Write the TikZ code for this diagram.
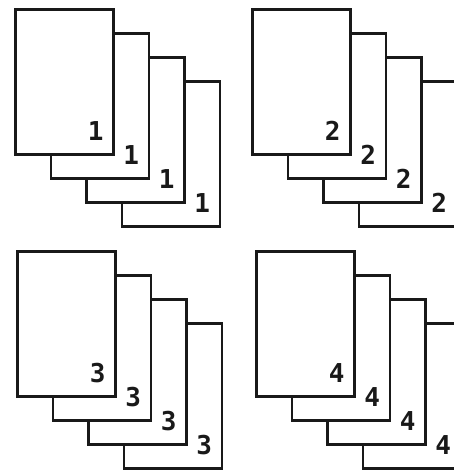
\documentclass[tikz,border=0pt]{standalone}
\usepackage{fontspec}
\newfontfamily\digitfont{DejaVu Sans Mono}
\usetikzlibrary{calc}
\begin{document}
\begin{tikzpicture}[x=1pt,y=-1pt,
  page/.style={draw=black!90, line width=2.6pt, fill=white, minimum width=98pt, minimum height=145pt, anchor=north west, inner sep=0pt},
  num/.style={font=\digitfont\bfseries\fontsize{26}{26}\selectfont, text=black!90, inner sep=0pt}]
\useasboundingbox (0,0) rectangle (454,472);
\foreach \g/\gx/\gy in {1/14/8, 2/251/8, 3/16/250, 4/255/250}{
  \foreach \k in {4,3,2,1}{
    \node[page] (g\g-p\k) at ({\gx+(\k-1)*35.5},{\gy+(\k-1)*24}) {};
    \node[num] (g\g-n\k) at ($(g\g-p\k.south east)+(-19,-25)$) {\g};
  }
}
\end{tikzpicture}
\end{document}
